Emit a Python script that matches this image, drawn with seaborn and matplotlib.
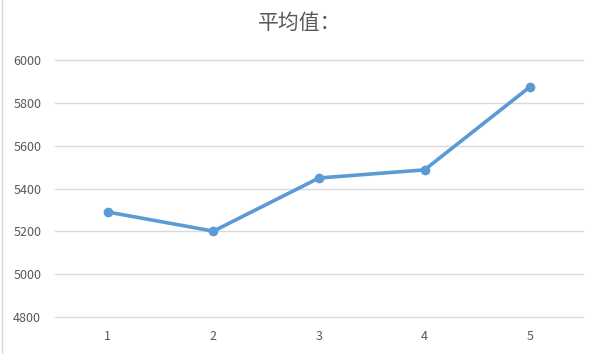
import pandas as pd
import seaborn as sns
import matplotlib.pyplot as plt

groups = [1, 2, 3, 4, 5]
means = [5290, 5201, 5449, 5487, 5875]
yticks = [4800, 5000, 5200, 5400, 5600, 5800, 6000]

df = pd.DataFrame({"group": groups, "mean": means})

sns.set_theme(style="whitegrid")
plt.rcParams['font.family'] = ['Noto Sans CJK SC', 'DejaVu Sans']

fig = plt.figure(figsize=(5.99, 3.54), dpi=100)
ax = fig.add_axes([0.092, 0.1045, 0.881, 0.726])

sns.lineplot(data=df, x="group", y="mean", ax=ax, color="#5B9BD5",
             linewidth=2.6, marker="o", markersize=7, markeredgewidth=0)

ax.set_xlim(0.5, 5.5)
ax.set_ylim(4800, 6000)
ax.set_xticks(groups)
ax.set_yticks(yticks)
ax.set_xlabel("")
ax.set_ylabel("")
ax.grid(axis="x", visible=False)
ax.grid(axis="y", color="#d9d9d9", linewidth=1)
for gl in ax.get_ygridlines():
    gl.set_clip_on(False)
for s in ax.spines.values():
    s.set_visible(False)
ax.tick_params(axis="both", length=0, labelsize=9, labelcolor="#595959")
ax.tick_params(axis="x", pad=9)
ax.tick_params(axis="y", pad=10)

fig.text(0.5, 0.935, "平均值：", ha="center", va="center", fontsize=15, color="#595959")

# faint sheet edge on the left
fig.add_artist(plt.Line2D([0.004, 0.004], [0, 1], color="#d9d9d9", linewidth=1))

plt.savefig("out.png", dpi=100)
